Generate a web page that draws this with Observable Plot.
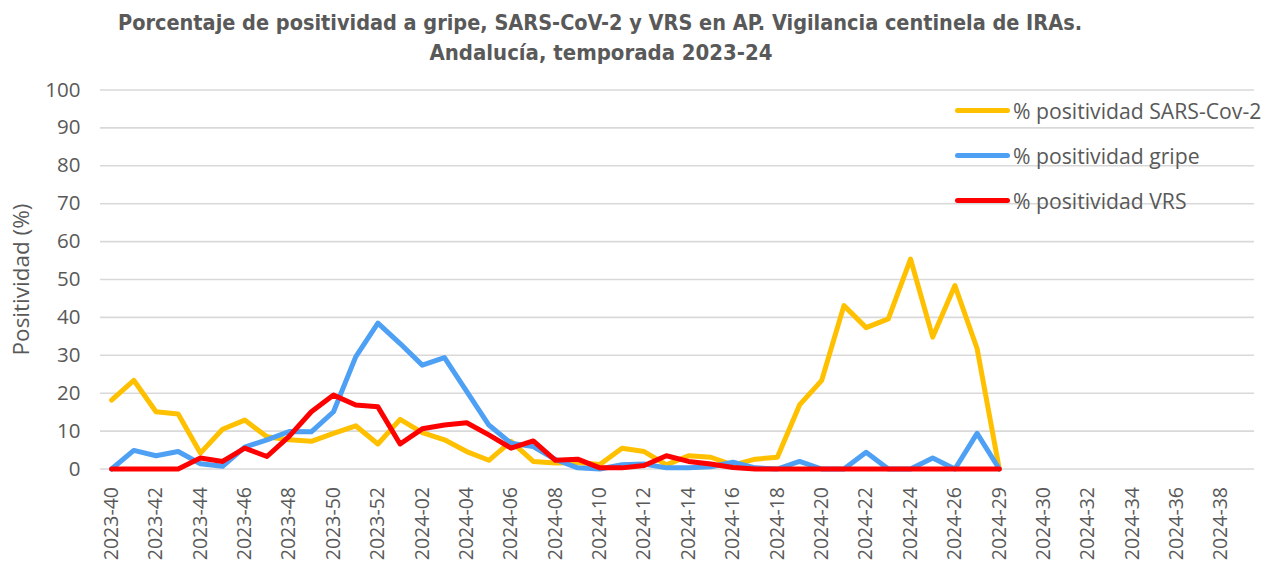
<!DOCTYPE html>
<html>
<head>
<meta charset="utf-8">
<script src="https://cdn.jsdelivr.net/npm/d3@7"></script>
<script src="https://cdn.jsdelivr.net/npm/@observablehq/plot@0.6"></script>
<style>
  html, body { margin: 0; padding: 0; background: #fff; }
  #wrap { position: relative; width: 1275px; height: 567px; overflow: hidden; font-family: "Open Sans", sans-serif; }
  #chart { position: absolute; left: 0; top: 0; }
  #title { position: absolute; left: 0; top: 0; }
  #legend { position: absolute; left: 955px; top: 0; color: #595959; font-size: 21.2px; }
  .item { position: absolute; left: 0; display: flex; align-items: center; white-space: nowrap; }
  .swatch { width: 55px; height: 5px; border-radius: 3px; margin-right: 3px; }
</style>
</head>
<body>
<div id="wrap">
  <div id="chart"></div>
  <svg id="title" width="1275" height="70">
    <text x="600" y="30" text-anchor="middle" textLength="964" lengthAdjust="spacingAndGlyphs" font-family="'Liberation Sans Narrow', 'DejaVu Sans Condensed', sans-serif" font-weight="bold" font-size="22" fill="#595959">Porcentaje de positividad  a gripe, SARS-CoV-2 y VRS en AP. Vigilancia centinela de IRAs.</text>
    <text x="601" y="60" text-anchor="middle" textLength="343" lengthAdjust="spacingAndGlyphs" font-family="'Liberation Sans Narrow', 'DejaVu Sans Condensed', sans-serif" font-weight="bold" font-size="22" fill="#595959">Andalucía, temporada 2023-24</text>
  </svg>
  <div id="legend"></div>
</div>
<script>
// Week categories (as labelled on the original axis)
const weeks = [
  "2023-40","2023-41","2023-42","2023-43","2023-44","2023-45","2023-46","2023-47","2023-48","2023-49","2023-50","2023-51","2023-52",
  "2024-01","2024-02","2024-03","2024-04","2024-05","2024-06","2024-07","2024-08","2024-09","2024-10","2024-11","2024-12","2024-13",
  "2024-14","2024-15","2024-16","2024-17","2024-18","2024-19","2024-20","2024-21","2024-22","2024-23","2024-24","2024-25","2024-26",
  "2024-27","2024-29","2024-29","2024-30","2024-31","2024-32","2024-33","2024-34","2024-35","2024-36","2024-37","2024-38","2024-39"
];

const sarsCov2 = [18.2, 23.4, 15.1, 14.5, 4.2, 10.5, 12.9, 8.5, 7.7, 7.3, 9.4, 11.4, 6.6, 13.1, 9.6, 7.7, 4.6, 2.3, 7.3, 2.0, 1.6, 1.7, 1.2, 5.5, 4.6, 1.1, 3.5, 3.1, 1.0, 2.6, 3.1, 16.9, 23.4, 43.1, 37.3, 39.6, 55.4, 34.8, 48.4, 31.8, 0];
const gripe = [0, 4.9, 3.5, 4.6, 1.4, 0.7, 5.8, 7.7, 9.9, 9.8, 15.1, 29.6, 38.5, 33.1, 27.4, 29.4, 20.5, 11.6, 6.8, 5.9, 2.5, 0.3, 0, 1.1, 1.3, 0.3, 0.3, 0.6, 1.8, 0.3, 0, 2.0, 0, 0, 4.4, 0, 0, 2.9, 0, 9.4, 0];
const vrs = [0, 0, 0, 0, 2.9, 2.0, 5.5, 3.3, 8.6, 15.1, 19.5, 16.9, 16.4, 6.6, 10.6, 11.6, 12.2, 9.0, 5.5, 7.4, 2.3, 2.6, 0.3, 0.3, 0.9, 3.5, 2.0, 1.3, 0.4, 0, 0, 0, 0, 0, 0, 0, 0, 0, 0, 0, 0];

const seriesNames = ["% positividad SARS-Cov-2", "% positividad gripe", "% positividad VRS"];
const seriesColors = ["#FFC000", "#4EA0F5", "#FF0000"];
const seriesValues = [sarsCov2, gripe, vrs];
const yTicks = [0, 10, 20, 30, 40, 50, 60, 70, 80, 90, 100];
const yLabel = "Positividad (%)";

const rows = seriesValues.map((vals, s) => vals.map((v, i) => ({i, v, s})));
const xTicks = d3.range(0, weeks.length, 2);

const chart = Plot.plot({
  width: 1275,
  height: 567,
  marginLeft: 100,
  marginRight: 21,
  marginTop: 89.5,
  marginBottom: 98.5,
  style: {fontFamily: "'Open Sans', sans-serif", color: "#595959", background: "transparent"},
  x: {domain: [-0.5, weeks.length - 0.5]},
  y: {domain: [0, 100]},
  marks: [
    Plot.gridY(yTicks, {stroke: "#d9d9d9", strokeOpacity: 1, strokeWidth: 1.6}),
    Plot.axisY(yTicks, {tickSize: 0, tickPadding: 20, fontSize: 20.5, fill: "#595959", label: null}),
    Plot.axisX(xTicks, {tickSize: 0, tickPadding: 18, tickRotate: -90, fontSize: 19.5, fill: "#595959", tickFormat: i => weeks[i], label: null}),
    Plot.text([yLabel], {frameAnchor: "left", dx: -79, rotate: -90, fontSize: 22.5, fill: "#595959", textAnchor: "middle", lineAnchor: "middle"}),
    ...rows.map((r, s) => Plot.lineY(r, {x: "i", y: "v", stroke: seriesColors[s], strokeWidth: 5, strokeLinejoin: "round", strokeLinecap: "round"}))
  ]
});
document.getElementById("chart").appendChild(chart);

const legend = document.getElementById("legend");
const legendY = [110, 155, 200];
seriesNames.forEach((name, k) => {
  const it = document.createElement("div");
  it.className = "item";
  it.style.top = (legendY[k] - 14) + "px";
  it.style.height = "28px";
  const sw = document.createElement("span");
  sw.className = "swatch";
  sw.style.background = seriesColors[k];
  const tx = document.createElement("span");
  tx.textContent = name;
  it.appendChild(sw);
  it.appendChild(tx);
  legend.appendChild(it);
});
</script>
</body>
</html>
